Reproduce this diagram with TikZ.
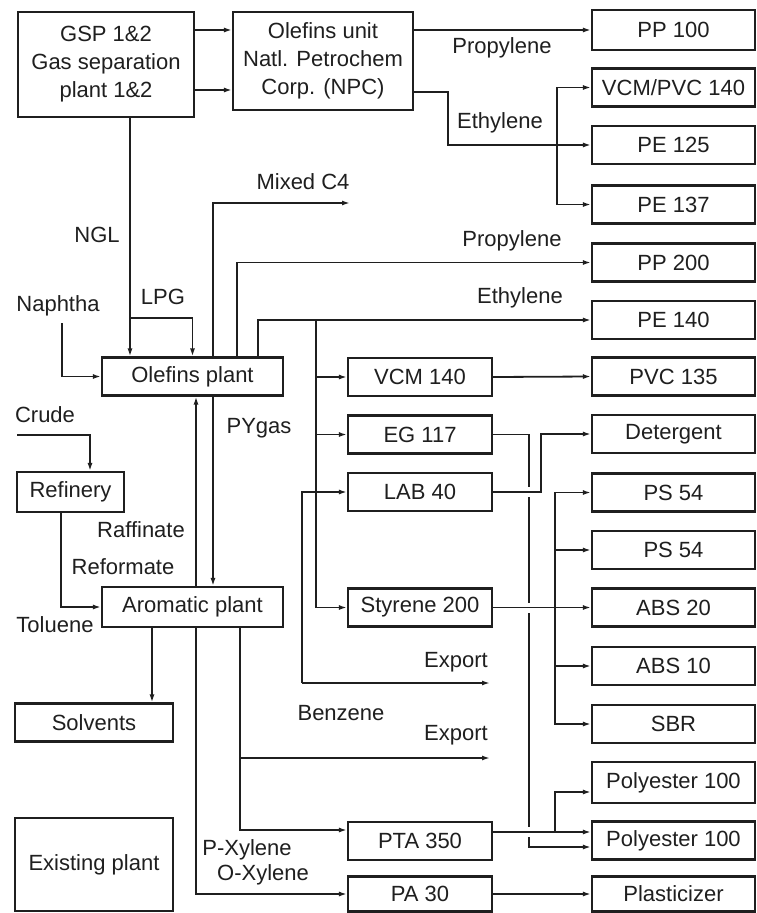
\documentclass[tikz,border=0pt]{standalone}
\usepackage{fontspec}
\setmainfont{Liberation Sans}
\usepackage{xcolor}
\usepackage{tikz}
\usetikzlibrary{arrows.meta, calc}
\definecolor{ink}{gray}{0.12}

\begin{document}
\begin{tikzpicture}[x=1pt, y=-1pt,
  font=\fontsize{22}{28}\selectfont,
  box/.style={draw=ink, line width=2.1pt, inner sep=0pt, minimum height=38pt, align=center, text=ink},
  prod/.style={box, minimum width=163pt},
  unit/.style={box, minimum width=144pt},
  lbl/.style={text=ink, inner sep=0pt},
  flow/.style={draw=ink, line width=1.8pt, -{Latex[length=8pt, width=5pt]}},
  hop/.style={draw=white, line width=4.5pt}
]
\fill[white] (0,0) rectangle (757,913);
\useasboundingbox (0,0) rectangle (757,913);

\node[box, minimum width=176pt, minimum height=105pt] (gsp) at (106,64.5) {GSP 1\&2\\Gas separation\\plant 1\&2};
\node[box, minimum width=180pt, minimum height=98pt] (npc) at (323,61) {Olefins unit\\Natl. Petrochem\\Corp. (NPC)};
\node[box, minimum width=181pt] (olp) at (192.5,376.5) {Olefins plant};
\node[box, minimum width=181pt, minimum height=40pt] (arp) at (192.5,607) {Aromatic plant};
\node[box, minimum width=107pt, minimum height=40pt] (ref) at (70.5,492) {Refinery};
\node[box, minimum width=158pt] (solv) at (94,722.5) {Solvents};
\node[box, minimum width=158pt, minimum height=93pt] (exist) at (94,864.5) {Existing plant};

\node[unit] (vcm140) at (420,377) {VCM 140};
\node[unit] (eg117) at (420,434.5) {EG 117};
\node[unit] (lab40) at (420,492) {LAB 40};
\node[unit] (sty200) at (420,607.5) {Styrene 200};
\node[unit] (pta350) at (420,841) {PTA 350};
\node[unit, minimum height=35pt] (pa30) at (420,894) {PA 30};

\node[prod, minimum height=40pt] (pp100) at (673.5,30) {PP 100};
\node[prod] (vcmpvc) at (673.5,87.5) {VCM/PVC 140};
\node[prod] (pe125) at (673.5,145) {PE 125};
\node[prod] (pe137) at (673.5,204.5) {PE 137};
\node[prod] (pp200) at (673.5,262.5) {PP 200};
\node[prod] (pe140) at (673.5,320) {PE 140};
\node[prod] (pvc135) at (673.5,376.5) {PVC 135};
\node[prod] (deterg) at (673.5,434) {Detergent};
\node[prod] (ps54a) at (673.5,492.5) {PS 54};
\node[prod] (ps54b) at (673.5,550) {PS 54};
\node[prod] (abs20) at (673.5,607.5) {ABS 20};
\node[prod] (abs10) at (673.5,666) {ABS 10};
\node[prod] (sbr) at (673.5,724) {SBR};
\node[prod, minimum height=41pt] (polya) at (673.5,782.5) {Polyester 100};
\node[prod] (polyb) at (673.5,840.5) {Polyester 100};
\node[prod, minimum height=35pt] (plast) at (673.5,894) {Plasticizer};

\node[lbl] (tprop1) at (502,48) {Propylene};
\node[lbl] (teth1) at (500,123) {Ethylene};
\node[lbl] (tmc4) at (303,182) {Mixed C4};
\node[lbl] (tngl) at (97,235) {NGL};
\node[lbl] (tnaph) at (58,306) {Naphtha};
\node[lbl] (tlpg) at (163,297) {LPG};
\node[lbl] (tprop2) at (512,241) {Propylene};
\node[lbl] (teth2) at (520,298) {Ethylene};
\node[lbl] (tpyg) at (259,428) {PYgas};
\node[lbl] (tcrude) at (45,415) {Crude};
\node[lbl] (traff) at (141,530) {Raffinate};
\node[lbl] (tref) at (123,567) {Reformate};
\node[lbl] (ttol) at (55,625) {Toluene};
\node[lbl] (texp1) at (456,662) {Export};
\node[lbl] (tbenz) at (341,713) {Benzene};
\node[lbl] (texp2) at (456,735) {Export};
\node[lbl] (tpx) at (247,850) {P-Xylene};
\node[lbl] (tox) at (263,875) {O-Xylene};

\coordinate (lpg) at (130,318);
\coordinate (naph) at (62,323);
\coordinate (mc4) at (350,203);
\coordinate (eth) at (316,320);
\coordinate (crude) at (17,435);
\coordinate (bz) at (302,683);
\coordinate (exp1) at (490,683);
\coordinate (exp2) at (490,758);
\coordinate (ethA) at ([xshift=-34pt]pe125.west);
\coordinate (egv) at ([xshift=36pt]eg117.east);
\coordinate (sbus) at ([xshift=-36pt]abs20.west);
\coordinate (pxl) at ([xshift=47.5pt]arp.south);

\draw[flow] ([yshift=34.5pt]gsp.east) -- ([yshift=34.5pt]gsp.east -| npc.west);
\draw[flow] ([yshift=-25.5pt]gsp.east) -- ([yshift=-25.5pt]gsp.east -| npc.west);
\draw[flow] (npc.east |- pp100.west) -- (pp100.west);
\draw[flow] ([yshift=-31pt]npc.east) -- ++(34,0) |- (pe125.west);
\draw[flow] (ethA) |- (vcmpvc.west);
\draw[flow] (ethA) |- (pe137.west);

\draw[flow] ([xshift=24pt]gsp.south) -- ([xshift=24pt]gsp.south |- olp.north);
\draw[flow] (lpg) -| (olp.north);
\draw[flow] (naph) |- (olp.west);
\draw[flow] ([xshift=20.5pt]olp.north) |- (mc4);
\draw[flow] ([xshift=44.5pt]olp.north) |- (pp200.west);
\draw[flow] ([xshift=65.5pt]olp.north) |- (pe140.west);
\draw[flow] (eth) |- (vcm140.west);
\draw[flow] (eth) |- (eg117.west);
\draw[flow] (eth) |- (sty200.west);
\draw[flow] (vcm140.east) -- (pvc135.west);
\draw[flow] ([xshift=20.5pt]olp.south) -- ([xshift=20.5pt]arp.north);
\draw[flow] ([xshift=3.5pt]arp.north) -- ([xshift=3.5pt]olp.south);

\draw[flow] (crude) -| ([xshift=19.5pt]ref.north);
\draw[flow] ([xshift=-9.5pt]ref.south) |- (arp.west);
\draw[flow] ([xshift=-40.5pt]arp.south) -- ([xshift=-40.5pt]arp.south |- solv.north);
\draw[flow] ([xshift=3.5pt]arp.south) |- (pa30.west);
\draw[flow] (pxl) |- ([yshift=11pt]pta350.west);
\draw[flow] (pxl |- exp2) -- (exp2);
\draw[flow] (bz) |- (lab40.west);
\draw[flow] (bz) -- (exp1);

\draw[flow] (eg117.east) -- (egv) |- ([yshift=-6.5pt]polyb.west);
\draw[hop] ([yshift=5pt]egv |- lab40.east) -- ([yshift=-5pt]egv |- lab40.east);
\draw[hop] ([yshift=5pt]egv |- sty200.east) -- ([yshift=-5pt]egv |- sty200.east);
\draw[hop] ([yshift=14pt]egv |- pta350.east) -- ([yshift=4pt]egv |- pta350.east);
\draw[flow] (lab40.east) -- ++(48,0) |- (deterg.west);
\draw[flow] (sty200.east) -- (abs20.west);
\draw[flow] (sbus) |- (ps54a.west);
\draw[flow] (sbus) |- (ps54b.west);
\draw[flow] (sbus) |- (abs10.west);
\draw[flow] (sbus) |- (sbr.west);
\draw[flow] ([yshift=9pt]pta350.east) -- ([yshift=9pt]pta350.east -| polyb.west);
\draw[flow] ([yshift=9pt]pta350.east -| sbus) |- ([yshift=-9.5pt]polya.west);
\draw[flow] (pa30.east) -- (plast.west);
\end{tikzpicture}
\end{document}
